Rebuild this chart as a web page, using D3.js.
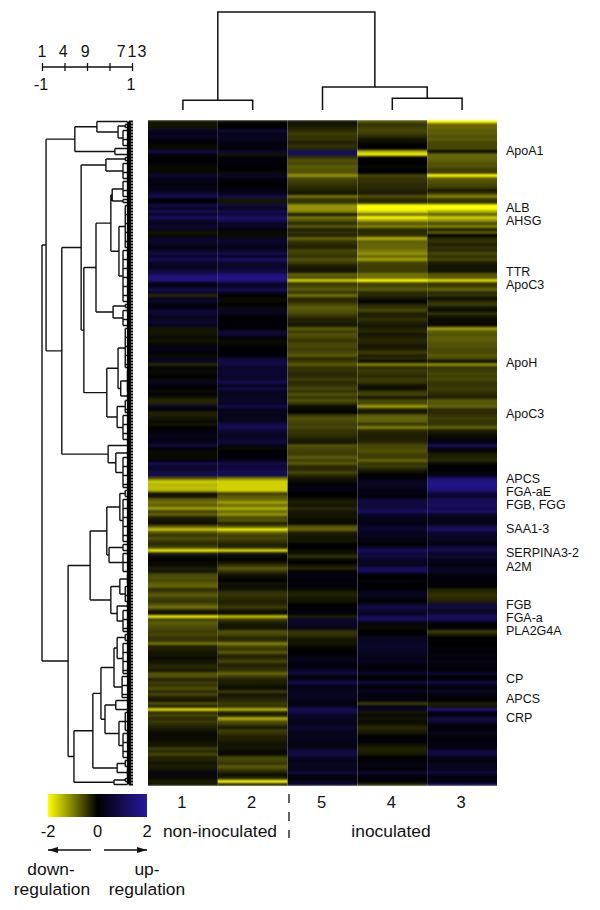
<!DOCTYPE html>
<html>
<head>
<meta charset="utf-8">
<script src="https://cdn.jsdelivr.net/npm/d3@7"></script>
<style>
  body { margin: 0; background: #fff; }
  text { font-family: "Liberation Sans", Arial, sans-serif; fill: #111; }
</style>
</head>
<body>
<div id="chart"></div>
<script>
// column order as it appears in the heatmap
var columns = ["1", "2", "5", "4", "3"];

// log ratios per protein row top to bottom
var col1 = [-.2,-.2,-.2,.5,.3,.5,.2,0,-.1,-.1,
  .9,.2,.1,0,.1,-.1,-.1,-.1,.7,.3,
  .2,.2,.3,.3,.6,1.1,.1,.1,.9,.4,
  1.1,.5,1.2,.6,.3,.7,.3,-.2,-.1,.5,
  .6,.4,.1,.5,.9,.5,1.1,.5,.4,.4,
  .8,1.2,1.6,1.5,.2,.2,1.1,.5,-.4,.4,
  .5,.2,.1,.7,.7,.3,.5,.6,.4,-.2,
  -.2,-.2,-.1,-.2,-.1,.2,.3,.1,-.1,.4,
  .4,-.4,.1,-.1,-.1,0,-.1,.5,.1,.1,
  -.1,.1,-.2,-.4,-.3,.5,.1,-.3,-.3,-.2,
  -.1,-.2,0,.1,.2,.3,.2,.3,.8,.1,
  -.1,-.1,-.1,.1,1,.6,.5,1,.9,-.9,
  -1.7,-1.5,-1.6,-1.5,-.2,-.2,-.9,-1.1,-.9,-1.4,
  -.6,-1,-.3,-.2,-.1,-.9,-1.6,-.8,-.5,-.8,
  -.5,-.4,-.7,-1.9,-.3,-.1,0,-.1,-.1,-.3,
  -.2,-.7,-.8,-.7,-.9,-1,-.4,-.7,-.9,-.6,
  -.5,-.8,-1.1,-.3,-.1,-1.9,-.6,-.9,-.8,-.7,
  -.6,-.7,-.5,-.5,-1.1,-.3,-.3,-.2,-.2,-.1,
  -.2,-.3,-.4,-.2,-.8,-.8,-.3,-.6,-.5,-.8,
  -.4,-.7,-.3,-.2,-.8,-.3,-1.8,-.4,-.7,-.4,
  -.6,-.4,-.3,-.2,-.1,-.1,-.1,-.2,-.2,-.6,
  -.4,-.7,-.3,-.3,-.2,-.3,-.2,.4,-.1,-.1,
  -.3,-.2];

var col2 = [-.1,0,0,.7,.3,.4,.4,.2,.2,.1,
  .6,-.2,.2,.1,.1,0,0,-.1,.6,.2,
  .1,0,.1,.2,.3,1,-.2,-.2,.8,.4,
  1,.7,1.3,1.1,.4,.5,.2,-.1,-.1,.4,
  .6,.4,.3,.5,1,.4,1.3,.6,.5,.6,
  .8,1.4,1.7,1.6,.5,.4,1.1,.5,0,-.1,
  -.1,0,-.1,.5,.4,.1,0,.1,.1,0,
  .7,.7,.1,-.1,-.1,.1,0,.1,.1,.6,
  .8,.9,.5,.6,.6,.5,.6,1.1,.3,.8,
  .4,.4,.4,.5,.4,1,.3,.4,.3,.3,
  .4,.9,1.1,.6,.5,.4,.6,.7,.3,-.1,
  0,.2,.1,.3,.9,.7,.8,1.1,.9,-1.2,
  -1.7,-1.7,-1.7,-1.7,-.6,-.9,-1,-1.4,-1,-1.5,
  -1,-1.3,-.7,-.8,-.3,-.8,-1.9,-1,-.6,-.7,
  -.5,-.3,-.4,-1.8,-.2,-.1,0,-.2,-.5,-.9,
  -.5,-.2,-.1,0,-.2,-.1,-.2,-.5,-.5,-.4,
  -.3,-.4,-.6,-.2,-.1,-1.6,-.6,-.3,-.2,-.2,
  -.8,-.7,-.4,-.4,-1.2,-.7,-.5,-.9,-.3,-.4,
  -.7,-.3,-.4,-.5,-1,-.6,-.3,-.3,-.2,-.1,
  -.6,-.2,-.3,-.4,-.6,-.5,-1.5,-.3,-.3,-1.5,
  -.8,-.6,-.2,-.6,-.5,-.3,-.3,-.2,-.2,-.2,
  -.1,-.1,-.7,-.7,-.5,-.9,-.6,-.3,-.1,-.5,
  -2,-.3];

var col5 = [-.2,-.2,-.3,-.4,-.6,-.5,-.5,-.3,-.5,-.4,
  1.1,1.1,-.5,-.8,-.7,-.9,-.8,-.8,-1.3,-.7,
  -.6,-.5,-.4,-.3,-.2,-1.1,-.5,-.5,-1.3,-1.3,
  -1.2,-.2,-1.1,-.8,-.4,-.9,-.3,-.5,-.3,-1,
  -.5,-.4,-.3,-.7,-.6,-.5,-.8,-.6,-.3,-.2,
  -.2,-1,-.7,-1.7,-.5,-.7,-.9,-.5,-1.1,-.4,
  -.4,-.7,-.9,-.8,-.7,-.5,-.3,-.3,-.2,-.9,
  -.6,-.8,-.7,-.5,-.7,-.7,-.6,-.7,-.9,-.4,
  -.6,-.9,-.5,-.5,-.4,-.4,-.6,-.4,-.5,-.7,
  -.5,-.8,-.5,-.8,-.5,-.1,-.1,0,-.6,-.8,
  -.7,-.6,-.7,-.5,-.5,-.4,-.3,-.2,-.8,-.7,
  -.6,-.6,-.9,-.6,-.9,-.4,-.4,-.7,-.4,-.2,
  -.1,.1,.2,.2,0,0,-.2,-.3,-.2,-.4,
  -.2,-.2,-.2,-.1,-.1,-.8,-1,-.3,-.2,-.2,
  -.2,0,0,-.1,-.2,-.5,-.1,0,-.2,-.4,
  0,.2,.2,.1,.2,.1,-.1,-.3,-.3,-.2,
  -.2,0,.1,.1,.1,-.3,.6,.5,.4,.3,
  -.5,-.5,-.3,-.2,-.2,-.1,.1,0,.2,.3,
  .3,.1,.2,.5,.8,.1,.2,1.1,.3,.3,
  .4,.4,.4,.3,.2,.4,1.1,.8,.5,.4,
  .3,.4,.6,.4,.3,.4,.3,.3,.2,.4,
  .8,.9,.5,.3,.4,.4,.3,.8,.2,.1,
  .4,.6];

var col4 = [-.8,-.5,-.6,-.7,-.6,-.4,-.2,-.1,0,0,
  -1.5,-1.9,0,0,0,-.1,0,0,-.7,-.5,
  -.5,-.4,-.4,-.3,-.3,-.8,-.4,-.4,-2,-2,
  -1.8,-1,-2,-1.4,-.8,-1.2,-.4,-.4,-.5,-1.5,
  -.9,-1,-1,-1.1,-1.3,-1,-1.4,-.7,-.6,-.6,
  -.6,-1.1,-1,-2,-.6,-.7,-.9,-.4,-.4,-.2,
  0,-.3,-.5,-.7,-.3,-.3,-.5,-.3,-.2,-.3,
  -.4,-.2,-.3,-.4,-.3,-.2,-.3,-.6,-.3,-.4,
  -.1,-1.2,-.4,-.6,-.5,-.4,-.6,-.5,-.2,-.1,
  -.5,-.7,-.2,-.7,-.7,-1.4,-.3,-.2,-.9,-1,
  -.9,-.5,-1.2,-.4,-.3,-.3,-.3,-.4,-.7,-.7,
  -.8,-.6,-.6,-1,-.5,-.6,-.3,-.1,0,.1,
  .4,.5,.3,.2,.2,.1,.6,.9,.7,.8,
  1.2,.5,.3,.3,.2,.5,.6,.4,.4,.2,
  .2,0,.5,1.2,.7,.9,.4,.4,.4,1.2,
  1.1,.1,0,.2,.1,0,.1,.4,.4,.2,
  0,.5,.9,.6,.4,.9,1.2,.3,-.1,-.1,
  0,.1,.4,.4,.5,.5,.5,.4,.4,.3,
  .4,.2,.1,.2,.6,.1,0,.9,.1,.1,
  .5,.1,.2,.1,-.6,.2,.5,-.2,-.1,-.2,
  -.1,-.2,-.4,-.3,-.2,0,.1,.1,-.2,-.3,
  -.3,-.2,0,.1,.2,.2,.1,.6,.2,.1,
  .1,-.4];

var col3 = [-2,-1,-1,-.9,-.9,-.8,-.9,-.7,-.7,-.7,
  -.1,-1,-1,-.9,-.8,-.8,-.6,-.6,-2,-.9,
  -.8,-.7,-.6,-.2,-.6,-1.2,-.5,-.5,-2,-2,
  -1.5,-.9,-1.7,-1.3,-.7,-1.2,-.3,-.9,0,-.4,
  -.5,-.3,-.5,-.4,-.7,-.5,-.7,-.3,-.2,-.2,
  -.2,-.9,-.8,-1.8,-.5,-.6,-1,-.4,-.5,-.1,
  -.4,-.6,-.2,-.1,-.5,-.2,-.1,-.1,-.1,-1.4,
  -.9,-.8,-.9,-.9,-.8,-.8,-.7,-.7,-.9,-.7,
  -.1,-1.3,-.5,-.6,-.7,-.6,-.7,-.5,-.5,-.6,
  -.5,-.4,-.3,-.9,-.8,-1,-.4,-.4,-.5,-.6,
  -.5,-.5,-1,-.3,-.2,-.1,.1,.2,1.2,.3,
  -.1,-.3,-.3,-.4,-.1,0,0,.2,.3,1.3,
  1.7,1.7,1.6,1.4,.7,.5,1,1.1,1.2,1,
  1.3,.5,.3,.3,.2,.9,1.3,.6,.5,.5,
  .3,.2,.8,1,.4,.7,.3,.3,.2,.4,
  .5,.2,.1,.1,.1,0,-.3,-.4,-.5,-.4,
  -.3,.8,.8,.4,.6,1.2,1,.3,0,.1,
  -.6,-.3,0,.1,0,.1,.1,.1,.2,.1,
  .2,.2,.1,.1,.7,.1,.1,.9,.2,.1,
  .5,.2,.1,0,-.3,-.2,1.6,.1,.2,.9,
  .7,.2,.1,.2,.3,.2,.1,.2,.2,.3,
  .8,.8,.3,.2,.3,.4,.3,.8,.2,.2,
  .2,1];

var seriesByColumn = {"1": col1, "2": col2, "5": col5, "4": col4, "3": col3};

// protein labels on the right, with the row they point at
var proteinNames = ["ApoA1","ALB","AHSG","TTR","ApoC3","ApoH","ApoC3","APCS","FGA-aE","FGB, FGG","SAA1-3","SERPINA3-2","A2M","FGB","FGA-a","PLA2G4A","CP","APCS","CRP"];
var proteinRows = [9.8,28.8,33.2,50.2,54.5,80.5,97.5,119.2,123.5,127.8,135.8,143.8,148.5,161.2,165.5,169.8,185.8,192.5,198.8];

// correlation scale, top labels and where they sit on it
var scaleTicks = [-1, -0.5, 0, 0.5, 1];
var scaleTopLabels = ["1", "4", "9", "7", "1", "3"];
var scaleTopPositions = [-1, -0.53, -0.04, 0.76, 1, 1.22];
var scaleBottomLabels = [-1, 1];

var colorDomain = [-2, 0, 2];
var colorRange = ["#ffff00", "#000000", "#2818a0"];

// sample tree: [correlation, child, child] or a column name
var columnTree = [-1,
  [0.8, "1", "2"],
  [0.53, "5", [0.76, "4", "3"]]];

// protein tree: [correlation, child, child] or [correlation, firstRow, lastRow]
var rowTree = [-1,
  [-0.91,
    [-0.27,
      [0.22,
        [0.9, 0, 0],
        [0.69, [0.85, 1, 2], [0.8, 3, 8]]],
      [0.62, 9, 11]],
    [-0.56,
      [-0.13,
        [0.42, [0.85, 12, 13], [0.8, 14, 19]],
        [-0.07,
          [0.2,
            [0.53,
              [0.56, [0.8, 20, 25], [0.8, 26, 27]],
              [0.71, [0.85, 28, 42], [0.8, 43, 60]]],
            [0.58, [0.85, 61, 62], [0.8, 63, 68]]],
          [0.44,
            [0.69, [0.85, 69, 82], [0.75, [0.9, 83, 90], [0.9, 91, 92]]],
            [0.67, [0.85, 93, 97], [0.8, 98, 106]]]]],
      [0.47,
        [0.91, 107, 109],
        [0.64, [0.9, 110, 111], [0.8, 112, 122]]]]],
  [-0.42,
    [0.07,
      [0.44,
        [0.73, [0.85, 123, 125], [0.8, 126, 140]],
        [0.49, [0.8, 141, 143], [0.8, 144, 150]]],
      [0.53,
        [0.73, [0.9, 151, 154], [0.85, 155, 160]],
        [0.67, [0.9, 161, 162], [0.8, 163, 170]]]],
    [-0.29,
      [0.13,
        [0.31,
          [0.6,
            [0.67, [0.85, 171, 173], [0.8, 174, 184]],
            [0.78, 185, 192]],
          [0.4,
            [0.64, 193, 196],
            [0.71, [0.85, 197, 203], [0.8, 204, 212]]]],
        [0.67, [0.85, 213, 215], [0.9, 216, 218]]],
      [0.6, [0.85, 219, 220], [0.9, 221, 221]]]]];

var rowCount = col1.length;

var svg = d3.select("#chart").append("svg")
    .attr("width", 600)
    .attr("height", 910)
    .style("display", "block");

var defs = svg.append("defs");

// the stripes in the reference are soft, blur them vertically only
defs.append("filter")
    .attr("id", "soft")
    .attr("color-interpolation-filters", "sRGB")
    .attr("x", "0").attr("width", "1")
    .attr("y", "0").attr("height", "1")
  .append("feGaussianBlur")
    .attr("stdDeviation", "0 0.9");

var x = d3.scaleBand().domain(columns).range([148, 497]);
var y = d3.scaleBand().domain(d3.range(rowCount)).range([120, 786]);
var rowY = function(r) { return y.range()[0] + (r + 0.5) * y.step(); };
var color = d3.scaleLinear().domain(colorDomain).range(colorRange);

// heatmap, the mid yellows print darker than the legend ramp
var heatColor = d3.scaleLinear()
    .domain([-2, -1, 0, 2])
    .range(["#ffff00", "#666608", "#000000", "#2818a0"]);

var heatmap = svg.append("g").attr("filter", "url(#soft)");
columns.forEach(function(c) {
  heatmap.append("g")
    .selectAll("rect")
    .data(seriesByColumn[c])
    .enter().append("rect")
      .attr("x", x(c))
      .attr("y", function(d, i) { return y(i); })
      .attr("width", x.bandwidth())
      .attr("height", y.bandwidth())
      .attr("fill", function(d) { return heatColor(d); });
});

// protein labels
svg.append("g").selectAll("text")
  .data(proteinNames)
  .enter().append("text")
    .attr("x", 506)
    .attr("y", function(d, i) { return rowY(proteinRows[i]); })
    .attr("dy", "0.35em")
    .style("font-size", "12.5px")
    .text(function(d) { return d; });

// row dendrogram
var rowX = d3.scaleLinear().domain([-1, 1]).range([42, 132]);
var isTerminal = function(d) { return typeof d[1] === "number"; };
var rowRoot = d3.hierarchy(rowTree, function(d) { return isTerminal(d) ? null : [d[1], d[2]]; });
rowRoot.eachAfter(function(n) {
  n.py = n.children ? d3.mean(n.children, function(c) { return c.py; })
                    : rowY((n.data[1] + n.data[2]) / 2);
});

var rowPath = d3.path();
rowRoot.each(function(n) {
  var px = rowX(n.data[0]);
  if (n.children) {
    rowPath.moveTo(px, n.children[0].py);
    rowPath.lineTo(px, n.children[1].py);
    n.children.forEach(function(c) {
      rowPath.moveTo(px, c.py);
      rowPath.lineTo(rowX(c.data[0]), c.py);
    });
  } else {
    rowPath.moveTo(px, rowY(n.data[1]));
    rowPath.lineTo(px, rowY(n.data[2]));
    // only some of the leaves reach back to the cluster line, the rest join in the dark strip
    d3.range(n.data[1], n.data[2] + 1).forEach(function(r) {
      if (r === n.data[1] || r === n.data[2] || (r - n.data[1]) % 3 === 0) {
        rowPath.moveTo(px, rowY(r));
        rowPath.lineTo(rowX(0.9), rowY(r));
      }
    });
  }
});
svg.append("path")
    .attr("d", rowPath.toString())
    .attr("fill", "none")
    .attr("stroke", "#111")
    .attr("stroke-width", 1.4);

// the leaves are so dense they merge into one dark strip with a toothed edge
svg.append("line")
    .attr("x1", rowX(0.93)).attr("x2", rowX(0.93))
    .attr("y1", rowY(0)).attr("y2", rowY(rowCount - 1))
    .attr("stroke", "#000")
    .attr("stroke-width", 4);

svg.append("g").selectAll("line")
  .data(d3.range(rowCount))
  .enter().append("line")
    .attr("x1", rowX(0.93))
    .attr("x2", rowX(1) + 1)
    .attr("y1", function(d) { return rowY(d); })
    .attr("y2", function(d) { return rowY(d); })
    .attr("stroke", "#000")
    .attr("stroke-width", 2);

// column dendrogram
var colY = d3.scaleLinear().domain([-1, 1]).range([12, 110]);
var colRoot = d3.hierarchy(columnTree, function(d) { return typeof d === "string" ? null : [d[1], d[2]]; });
colRoot.eachAfter(function(n) {
  n.px = n.children ? d3.mean(n.children, function(c) { return c.px; })
                    : x(n.data) + x.bandwidth() / 2;
  n.corr = n.children ? n.data[0] : 1;
});
var colPath = d3.path();
colRoot.each(function(n) {
  if (!n.children) return;
  var a = n.children[0], b = n.children[1];
  colPath.moveTo(a.px, colY(a.corr));
  colPath.lineTo(a.px, colY(n.corr));
  colPath.lineTo(b.px, colY(n.corr));
  colPath.lineTo(b.px, colY(b.corr));
});
svg.append("path")
    .attr("d", colPath.toString())
    .attr("fill", "none")
    .attr("stroke", "#111")
    .attr("stroke-width", 1.5);

// correlation scale, top left
var scaleG = svg.append("g")
    .attr("transform", "translate(0,67)")
    .call(d3.axisTop(rowX).tickValues(scaleTicks).tickSize(4).tickFormat(""));
scaleG.selectAll("line").attr("y1", 4).attr("y2", -4).attr("stroke", "#111").attr("stroke-width", 1.3);
scaleG.select(".domain").attr("d", "M" + rowX(-1) + ",0H" + rowX(1)).attr("stroke", "#111").attr("stroke-width", 1.5);

svg.append("g").selectAll("text")
  .data(scaleTopLabels)
  .enter().append("text")
    .attr("x", function(d, i) { return rowX(scaleTopPositions[i]); })
    .attr("y", 57)
    .attr("text-anchor", "middle")
    .style("font-size", "16px")
    .text(function(d) { return d; });

svg.append("g").selectAll("text")
  .data(scaleBottomLabels)
  .enter().append("text")
    .attr("x", function(d) { return rowX(d) - 1; })
    .attr("y", 90)
    .attr("text-anchor", "middle")
    .style("font-size", "16px")
    .text(function(d) { return d; });

// color bar
var legendX = d3.scaleLinear().domain([-2, 2]).range([48, 147]);
var gradient = defs.append("linearGradient").attr("id", "ramp");
colorDomain.forEach(function(v, i) {
  gradient.append("stop")
    .attr("offset", (i * 50) + "%")
    .attr("stop-color", color(v));
});
svg.append("rect")
    .attr("x", legendX(-2))
    .attr("y", 794)
    .attr("width", legendX(2) - legendX(-2))
    .attr("height", 23)
    .attr("fill", "url(#ramp)");

svg.append("g").selectAll("text")
  .data(colorDomain)
  .enter().append("text")
    .attr("x", function(d) { return legendX(d); })
    .attr("y", 837)
    .attr("text-anchor", "middle")
    .style("font-size", "16.5px")
    .text(function(d) { return d; });

// column numbers under the heatmap
svg.append("g").selectAll("text")
  .data(columns)
  .enter().append("text")
    .attr("x", function(d) { return x(d) + x.bandwidth() / 2 - 1; })
    .attr("y", 808)
    .attr("text-anchor", "middle")
    .style("font-size", "16.5px")
    .text(function(d) { return d; });

function label(str, px, py) {
  svg.append("text")
    .attr("x", px)
    .attr("y", py)
    .attr("text-anchor", "middle")
    .style("font-size", "17.4px")
    .text(str);
}
label("non-inoculated", 220, 837);
label("inoculated", 391, 837);
label("down-", 51, 875);
label("regulation", 52, 895);
label("up-", 147, 875);
label("regulation", 147, 895);

// dashed split between the two groups
svg.append("line")
    .attr("x1", 289).attr("x2", 289)
    .attr("y1", 794).attr("y2", 838)
    .attr("stroke", "#111")
    .attr("stroke-width", 1.3)
    .style("stroke-dasharray", "9, 9");

// regulation arrows
defs.append("marker")
    .attr("id", "arrow")
    .attr("viewBox", "0 0 10 6")
    .attr("refX", 10).attr("refY", 3)
    .attr("markerWidth", 10).attr("markerHeight", 6)
    .attr("markerUnits", "userSpaceOnUse")
    .attr("orient", "auto")
  .append("path")
    .attr("d", "M0,0L10,3L0,6Z")
    .attr("fill", "#111");

[[91, 48], [104, 147]].forEach(function(a) {
  svg.append("line")
    .attr("x1", a[0]).attr("x2", a[1])
    .attr("y1", 850).attr("y2", 850)
    .attr("stroke", "#111")
    .attr("stroke-width", 1.3)
    .attr("marker-end", "url(#arrow)");
});
</script>
</body>
</html>
